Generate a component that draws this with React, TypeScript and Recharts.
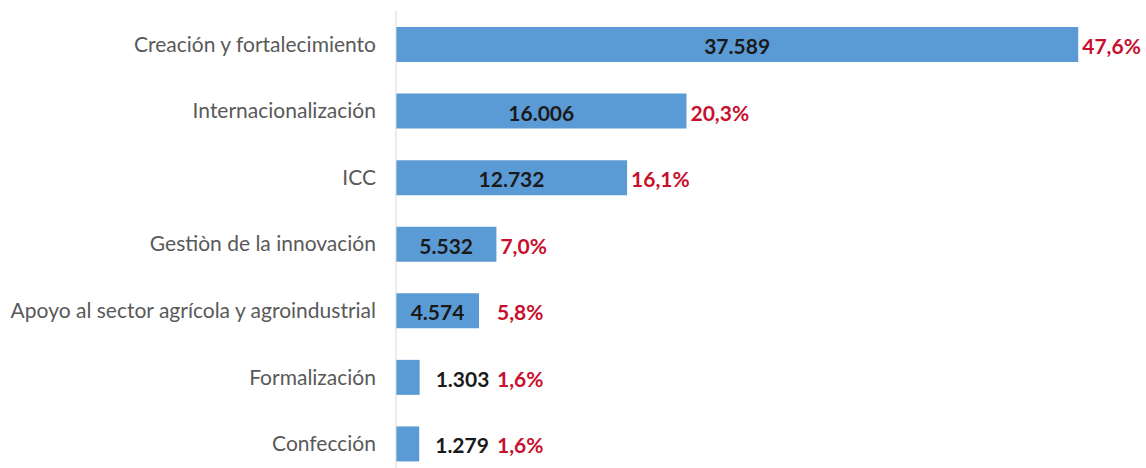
import React from 'react';
import { BarChart, Bar, XAxis, YAxis, LabelList } from 'recharts';

const categories = [
    'Creación y fortalecimiento',
    'Internacionalización',
    'ICC',
    'Gestiòn de la innovación',
    'Apoyo al sector agrícola y agroindustrial',
    'Formalización',
    'Confección',
];
const values = [37589, 16006, 12732, 5532, 4574, 1303, 1279];
const shares = [47.6, 20.3, 16.1, 7.0, 5.8, 1.6, 1.6];

const data = categories.map((name, i) => ({ name, value: values[i], share: shares[i] }));

const FONT = 'Lato, "Open Sans", sans-serif';

const fmtThousands = (v: number) => String(v).replace(/\B(?=(\d{3})+(?!\d))/g, '.');
const fmtPct = (v: number) => v.toFixed(1).replace('.', ',') + '%';

// value label: centred in the bar when it fits, otherwise just after it
const ValueLabel = (props: any) => {
    const { x, y, width, height, value } = props;
    const inside = width > 60;
    const cx = inside ? x + width / 2 : x + width + 16;
    return (
        <text
            x={cx}
            y={y + height / 2 + 1}
            textAnchor={inside ? 'middle' : 'start'}
            dominantBaseline='central'
            fontFamily={FONT}
            fontSize={21}
            fontWeight={700}
            fill='#1a1a1a'
        >
            {fmtThousands(value)}
        </text>
    );
};

const ShareLabel = (props: any) => {
    const { x, y, width, height, value } = props;
    const px = Math.max(x + width + 4, 497);
    return (
        <text
            x={px}
            y={y + height / 2 + 1}
            textAnchor='start'
            dominantBaseline='central'
            fontFamily={FONT}
            fontSize={21}
            fontWeight={700}
            fill='#C8102E'
        >
            {fmtPct(value)}
        </text>
    );
};

const App = () => {
    return (
        <div style={{ position: 'absolute', top: 0, left: 0, width: 1146, height: 468, overflow: 'hidden', background: '#fff' }}>
            <BarChart
                width={1146}
                height={480}
                data={data}
                layout='vertical'
                margin={{ top: 11, right: 24, left: 0, bottom: 3 }}
                barSize={35}
            >
                <XAxis type='number' hide domain={[0, 40000]} />
                <YAxis
                    type='category'
                    dataKey='name'
                    width={396}
                    tickLine={false}
                    tickMargin={14}
                    axisLine={{ stroke: '#d9d9d9' }}
                    tick={{ fill: '#595959', fontSize: 21, fontFamily: FONT }}
                    interval={0}
                />
                <Bar dataKey='value' fill='#5B9BD5' isAnimationActive={false}>
                    <LabelList dataKey='value' content={<ValueLabel />} />
                    <LabelList dataKey='share' content={<ShareLabel />} />
                </Bar>
            </BarChart>
        </div>
    );
};

export default App;
